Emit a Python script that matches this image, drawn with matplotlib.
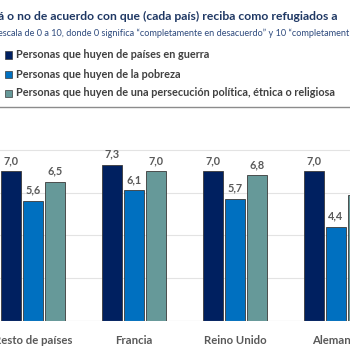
import matplotlib
matplotlib.use("Agg")
import matplotlib.pyplot as plt
from matplotlib.patches import Rectangle

categories = ["Resto de países", "Francia", "Reino Unido", "Alemania"]
series_names = ["Personas que huyen de países en guerra",
                "Personas que huyen de la pobreza",
                "Personas que huyen de una persecución política, étnica o religiosa"]
guerra = [7.0, 7.3, 7.0, 7.0]
pobreza = [5.6, 6.1, 5.7, 4.4]
persecucion = [6.5, 7.0, 6.8, 5.9]
series = [guerra, pobreza, persecucion]
colors = ["#002060", "#0070C0", "#669999"]

title = "á o no de acuerdo con que (cada país) reciba como refugiados a"
subtitle = "escala de 0 a 10, donde 0 significa “completamente en desacuerdo” y 10 “completament"

W, H = 350, 350
fig = plt.figure(figsize=(3.5, 3.5), dpi=100)
FONT = ["Lato", "DejaVu Sans"]

# axes: pixel y 107 (value 10) to 321 (value 0)
y_top, y_bot = 107, 321
ax = fig.add_axes([0, 1 - y_bot / H, 1, (y_bot - y_top) / H])
ax.set_ylim(0, 10)
px_per_unit = 101.0
center0 = 33.0
ax.set_xlim(-center0 / px_per_unit, (W - center0) / px_per_unit)
ax.axis("off")

for g in [2, 4, 6, 8]:
    ax.axhline(g, color="#E3E3E3", lw=0.8, zorder=0)
ax.axhline(0, color="#BFBFBF", lw=0.8, zorder=3)
ax.axhline(10, color="#8C8C8C", lw=1.0, zorder=3, clip_on=False)

bw = 0.205
offsets = [-0.218, 0.0, 0.218]
for s, vals in enumerate(series):
    for i, v in enumerate(vals):
        x = i + offsets[s]
        ax.bar(x, v, width=bw, color=colors[s], edgecolor="#3A3A3A", linewidth=0.6, zorder=2)
        ax.text(x, v + 0.25, f"{v:.1f}".replace(".", ","), ha="center", va="bottom",
                fontsize=7.8, fontweight="bold", color="#595959", family=FONT)

for i, c in enumerate(categories):
    ax.text(i, -0.65, c, ha="center", va="top", fontsize=8.2, fontweight="bold",
            color="#595959", family=FONT)

fig.text(-2 / W, 1 - 16 / H, title, ha="left", va="center", fontsize=8.7,
         fontweight="bold", color="#1F3864", family=FONT)
fig.text(-2 / W, 1 - 33 / H, subtitle, ha="left", va="center", fontsize=6.6,
         color="#2E4A7D", family=FONT)

leg_y = [55, 74, 93]
for s in range(3):
    fig.patches.append(Rectangle((5 / W, 1 - (leg_y[s] + 3.5) / H), 7 / W, 7 / H,
                                 transform=fig.transFigure, facecolor=colors[s],
                                 edgecolor="#3A3A3A", linewidth=0.5))
    fig.text(16 / W, 1 - leg_y[s] / H, series_names[s], ha="left", va="center",
             fontsize=7.8, fontweight="bold", color="#404040", family=FONT)

fig.savefig("out.png", dpi=100)
